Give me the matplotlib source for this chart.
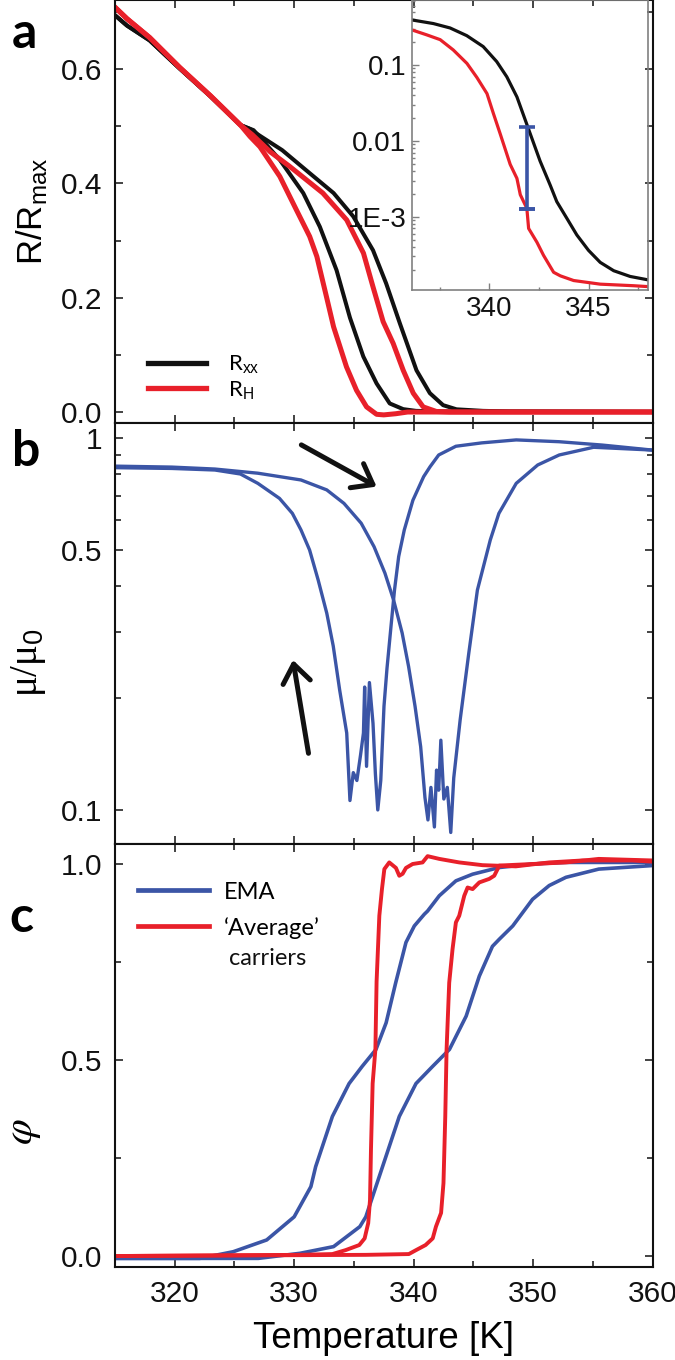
import matplotlib
matplotlib.use('Agg')
import matplotlib.pyplot as plt
from matplotlib.ticker import MultipleLocator, FixedLocator, FixedFormatter, NullFormatter, LogLocator

plt.rcParams['font.family'] = ['Liberation Sans', 'DejaVu Sans']
plt.rcParams['mathtext.fontset'] = 'custom'
plt.rcParams['mathtext.rm'] = 'Liberation Sans'
plt.rcParams['mathtext.it'] = 'Liberation Sans:italic'
plt.rcParams['mathtext.bf'] = 'Liberation Sans:bold'

BLACK = '#111111'
RED = '#e8202a'
BLUE = '#3b55a6'

# ---- panel a : R/Rmax (all four branches overlap below ~325.5 K)
T_common = [315.0, 316.0, 317.9, 320.4, 323.0, 325.5]
rxx_common = [0.694, 0.676, 0.650, 0.601, 0.552, 0.502]
rh_common = [0.708, 0.688, 0.655, 0.603, 0.553, 0.502]

rxx_cool_T = [326.6, 328.8, 330.76, 332.15, 333.55, 334.67, 335.79, 336.9, 338.0, 339.13, 340.2, 342.0, 360.0]
rxx_cool = [0.493, 0.441, 0.383, 0.324, 0.248, 0.165, 0.097, 0.050, 0.015, 0.005, 0.002, 0.001, 0.0]
rxx_heat_T = [326.3, 327.0, 329.0, 331.0, 333.3, 334.95, 336.6, 337.7, 338.85, 340.24, 341.36, 342.47,
              343.59, 345.8, 348.0, 360.0]
rxx_heat = [0.495, 0.485, 0.458, 0.423, 0.383, 0.342, 0.283, 0.225, 0.155, 0.073, 0.033, 0.012,
            0.0047, 0.002, 0.001, 0.0005]

rh_cool_T = [326.3, 327.13, 328.8, 330.2, 331.3, 331.9, 332.15, 332.7, 333.3, 334.38, 335.22, 336.06,
             336.9, 337.5, 338.5, 339.5, 360.0]
rh_cool = [0.482, 0.464, 0.412, 0.353, 0.307, 0.272, 0.250, 0.202, 0.149, 0.079, 0.038, 0.009,
           -0.004, -0.005, -0.003, 0.0, 0.0]
rh_heat_T = [326.5, 328.0, 329.6, 332.4, 334.4, 335.8, 336.6, 337.45, 338.29, 339.13, 339.97, 340.8,
             341.9, 343.0, 360.0]
rh_heat = [0.485, 0.455, 0.430, 0.383, 0.336, 0.278, 0.219, 0.158, 0.120, 0.073, 0.033, 0.009,
           0.001, 0.0, 0.0]

# inset (log scale, heating branches)
ins_T_rxx = [336.17, 337.18, 338.02, 338.86, 339.69, 340.37, 340.88, 341.39, 341.89, 342.56, 343.07,
             343.40, 343.91, 344.41, 345.0, 345.59, 346.27, 347.10, 347.94]
ins_rxx = [0.39, 0.352, 0.308, 0.244, 0.175, 0.111, 0.0699, 0.038, 0.0165, 0.0054, 0.0026,
           0.00158, 9.5e-4, 5.75e-4, 3.6e-4, 2.5e-4, 1.94e-4, 1.63e-4, 1.48e-4]
ins_T_rh = [336.17, 336.84, 337.52, 338.18, 338.87, 339.37, 339.88, 340.21, 340.55, 341.05, 341.39,
            341.56, 341.89, 341.98, 342.40, 342.73, 343.24, 343.58, 344.25, 345.59, 347.27, 347.94]
ins_rh = [0.286, 0.25, 0.216, 0.158, 0.105, 0.0686, 0.042, 0.0227, 0.0123, 0.0049, 0.0032,
          0.00195, 0.00129, 7e-4, 4.6e-4, 3.1e-4, 1.85e-4, 1.66e-4, 1.44e-4, 1.29e-4, 1.23e-4, 1.2e-4]
bar_T = 341.89
bar_lo, bar_hi = 0.00127, 0.0154

# ---- panel b : mobility
mu_a_T = [315, 319.76, 323.36, 325.5, 326.96, 328.77, 329.85, 330.57, 331.29, 332.01, 332.73, 333.27,
          333.81, 334.4, 334.67, 334.95, 335.25, 335.55, 335.8, 335.9, 336.06, 336.3, 336.6, 336.8,
          337.0, 337.25, 337.52, 337.77, 338.1, 338.4, 338.75, 339.22, 339.94, 340.84, 341.38, 342.1,
          343.54, 345.7, 348.59, 352.19, 355.79, 359.94]
mu_a = [0.832, 0.828, 0.82, 0.80, 0.755, 0.688, 0.627, 0.566, 0.50, 0.415, 0.338, 0.276,
        0.210, 0.161, 0.106, 0.126, 0.12, 0.14, 0.161, 0.214, 0.131, 0.22, 0.171, 0.125,
        0.10, 0.12, 0.19, 0.24, 0.31, 0.39, 0.48, 0.566, 0.68, 0.787, 0.837, 0.90,
        0.95, 0.97, 0.988, 0.977, 0.957, 0.928]
mu_b_T = [315, 319.76, 323.36, 326.96, 330.57, 332.73, 334.17, 335.61, 336.69, 337.6, 338.32, 339.04,
          339.58, 340.12, 340.59, 340.95, 341.2, 341.45, 341.74, 341.92, 342.1, 342.28, 342.53, 342.82,
          343.11, 343.36, 343.9, 344.62, 345.34, 346.42, 347.14, 348.59, 350.39, 352.19, 355.07, 359.94]
mu_b = [0.84, 0.835, 0.825, 0.804, 0.771, 0.725, 0.667, 0.590, 0.51, 0.433, 0.367, 0.299,
        0.243, 0.19, 0.148, 0.108, 0.094, 0.115, 0.09, 0.128, 0.113, 0.154, 0.107, 0.115,
        0.087, 0.122, 0.175, 0.264, 0.39, 0.532, 0.627, 0.755, 0.846, 0.90, 0.944, 0.928]

# ---- panel c : metallic fraction
ema_cool_T = [315, 322.1, 324.9, 327.7, 330.0, 331.4, 331.8, 333.2, 334.6, 335.7, 336.85, 337.7, 338.5,
              339.36, 340.06, 340.9, 341.17, 342.15, 343.54, 344.94, 347.17, 349.96, 352.75, 360.0]
ema_cool = [-0.006, -0.006, 0.011, 0.041, 0.10, 0.177, 0.228, 0.356, 0.44, 0.484, 0.527, 0.595, 0.697,
            0.80, 0.842, 0.872, 0.88, 0.919, 0.957, 0.974, 0.991, 1.0, 1.004, 1.004]
ema_heat_T = [315, 327.0, 330.5, 333.3, 335.5, 336.0, 337.4, 338.8, 340.2, 341.6, 343.0, 344.4, 345.5,
              346.6, 347.17, 348.3, 349.96, 351.35, 352.75, 355.5, 360.0]
ema_heat = [-0.006, -0.006, 0.007, 0.024, 0.075, 0.10, 0.228, 0.356, 0.44, 0.484, 0.527, 0.612, 0.714,
            0.79, 0.808, 0.842, 0.91, 0.945, 0.966, 0.987, 0.996]
avg_cool_T = [315, 330.4, 333.2, 334.3, 335.45, 335.9, 336.2, 336.35, 336.43, 336.57, 336.8, 336.9,
              337.13, 337.35, 337.55, 337.96, 338.52, 338.8, 339.08, 339.36, 339.92, 340.75, 341.17,
              342.15, 343.82, 345.77, 348.56, 351.35, 354.14, 358.3, 360.0]
avg_cool = [0.0, 0.003, 0.005, 0.015, 0.028, 0.045, 0.084, 0.143, 0.271, 0.44, 0.527, 0.70,
            0.868, 0.936, 0.987, 1.004, 0.99, 0.97, 0.975, 0.99, 1.0, 1.004, 1.02,
            1.013, 1.004, 0.997, 0.994, 1.004, 1.009, 1.009, 1.006]
avg_heat_T = [315, 336.0, 339.6, 340.2, 341.0, 341.6, 341.87, 342.3, 342.5, 342.65, 342.76, 342.98,
              343.26, 343.54, 343.82, 344.24, 344.52, 344.94, 345.5, 346.33, 346.75, 347.03, 347.17,
              349.96, 352.75, 355.5, 360.0]
avg_heat = [0.0, 0.003, 0.005, 0.015, 0.028, 0.045, 0.075, 0.11, 0.186, 0.356, 0.527, 0.697,
            0.783, 0.851, 0.868, 0.919, 0.94, 0.936, 0.953, 0.962, 0.97, 0.987, 0.996,
            1.0, 1.004, 1.013, 1.009]

# arrows in panel b : (tail T, tail mu, head T, head mu)
arrow_down = (330.6, 0.958, 336.9, 0.740)
arrow_up = (331.2, 0.142, 329.9, 0.253)


def style(ax):
    ax.tick_params(which='both', direction='in', top=True, right=True, width=1.1,
                   labelsize=21.5, pad=9, colors=BLACK)
    ax.tick_params(which='major', length=5.5)
    ax.tick_params(which='minor', length=4)
    for s in ax.spines.values():
        s.set_linewidth(1.5)
        s.set_color(BLACK)


fig = plt.figure(figsize=(6.75, 13.6), dpi=100)
L, W = 0.17037, 0.7963
axa = fig.add_axes([L, 0.68897, W, 0.31103])
axb = fig.add_axes([L, 0.37941, W, 0.30956], sharex=axa)
axc = fig.add_axes([L, 0.06838, W, 0.31103], sharex=axa)

# panel a
h_xx = axa.plot(T_common + rxx_cool_T, rxx_common + rxx_cool, color=BLACK, lw=2.9)[0]
axa.plot(T_common + rxx_heat_T, rxx_common + rxx_heat, color=BLACK, lw=2.9)
h_h = axa.plot(T_common + rh_cool_T, rh_common + rh_cool, color=RED, lw=3.6)[0]
axa.plot(T_common + rh_heat_T, rh_common + rh_heat, color=RED, lw=3.6)
axa.set_ylim(-0.0192, 0.7207)
axa.yaxis.set_major_locator(FixedLocator([0.0, 0.2, 0.4, 0.6]))
axa.yaxis.set_major_formatter(FixedFormatter(['0.0', '0.2', '0.4', '0.6']))
axa.yaxis.set_minor_locator(FixedLocator([0.1, 0.3, 0.5, 0.7]))
axa.set_ylabel(r'R/R$_{\rm max}$', fontsize=25)
axa.yaxis.set_label_coords(-0.12, 0.5)
leg = axa.legend([h_xx, h_h], [r'R$_{\rm xx}$', r'R$_{\rm H}$'], loc='lower left',
                 bbox_to_anchor=(0.061, 0.05), frameon=False, borderpad=0, borderaxespad=0,
                 handlelength=2.64, handletextpad=0.96, labelspacing=0.15,
                 prop={'family': 'Lato', 'size': 16})
for ln in leg.get_lines():
    ln.set_linewidth(3.8)

# panel b
axb.plot(mu_a_T, mu_a, color=BLUE, lw=2.4)
axb.plot(mu_b_T, mu_b, color=BLUE, lw=2.4)
axb.set_yscale('log')
axb.set_ylim(0.0810, 1.097)
axb.yaxis.set_major_locator(FixedLocator([0.1, 0.5, 1.0]))
axb.yaxis.set_major_formatter(FixedFormatter(['0.1', '0.5', '1']))
axb.yaxis.set_minor_locator(FixedLocator([0.2, 0.3, 0.4, 0.6, 0.7, 0.8, 0.9]))
axb.yaxis.set_minor_formatter(NullFormatter())
axb.set_ylabel('μ/μ$_0$', fontsize=28, family='Liberation Serif')
axb.yaxis.set_label_coords(-0.125, 0.43)
for tail_T, tail_mu, head_T, head_mu in [arrow_down, arrow_up]:
    axb.annotate('', xy=(head_T, head_mu), xytext=(tail_T, tail_mu),
                 arrowprops=dict(arrowstyle='->,head_length=0.6,head_width=0.45', lw=3.6,
                                 color=BLACK, shrinkA=0, shrinkB=0, mutation_scale=22))

# panel c
h_ema = axc.plot(ema_cool_T, ema_cool, color=BLUE, lw=2.6)[0]
axc.plot(ema_heat_T, ema_heat, color=BLUE, lw=2.6)
h_avg = axc.plot(avg_cool_T, avg_cool, color=RED, lw=2.8)[0]
axc.plot(avg_heat_T, avg_heat, color=RED, lw=2.8)
axc.set_ylim(-0.028, 1.051)
axc.yaxis.set_major_locator(FixedLocator([0.0, 0.5, 1.0]))
axc.yaxis.set_major_formatter(FixedFormatter(['0.0', '0.5', '1.0']))
axc.yaxis.set_minor_locator(FixedLocator([0.25, 0.75]))
axc.set_ylabel(r'$\varphi$', fontsize=30, math_fontfamily='stix')
axc.yaxis.set_label_coords(-0.134, 0.32)
axc.set_xlabel('Temperature [K]', fontsize=26.5, labelpad=10)
leg2 = axc.legend([h_ema, h_avg], ['EMA', '\u2018Average\u2019'], loc='upper left',
                  bbox_to_anchor=(0.043, 0.911), frameon=False, borderpad=0, borderaxespad=0,
                  handlelength=3.0, handletextpad=0.64, labelspacing=0.6,
                  prop={'family': 'Lato', 'size': 17})
for ln in leg2.get_lines():
    ln.set_linewidth(3.4)
axc.text(0.212, 0.73, 'carriers', transform=axc.transAxes, family='Lato', fontsize=17,
         ha='left', va='center', color=BLACK)

axa.set_xlim(315, 360)
axa.xaxis.set_major_locator(MultipleLocator(10))
axa.xaxis.set_minor_locator(MultipleLocator(5))
for ax in (axa, axb, axc):
    style(ax)
axa.tick_params(labelbottom=False)
axb.tick_params(labelbottom=False)

# inset
ins = fig.add_axes([0.6104, 0.78676, 0.3496, 0.21324])
ins.patch.set_alpha(0)
ins.plot(ins_T_rxx, ins_rxx, color=BLACK, lw=2.3)
ins.plot(ins_T_rh, ins_rh, color=RED, lw=2.3)
ins.errorbar([bar_T], [bar_lo], yerr=[[0], [bar_hi - bar_lo]], color=BLUE, lw=2.6,
             capsize=6, capthick=2.6)
ins.plot([bar_T], [bar_lo], color=BLUE, marker='_', ms=12, mew=2.6)
ins.set_yscale('log')
ins.set_xlim(336.1, 348.0)
ins.set_ylim(1.08e-4, 0.72)
ins.xaxis.set_major_locator(FixedLocator([340, 345]))
ins.xaxis.set_minor_locator(FixedLocator([337.5, 342.5, 347.5]))
ins.yaxis.set_major_locator(FixedLocator([1e-3, 1e-2, 1e-1]))
ins.yaxis.set_major_formatter(FixedFormatter(['1E-3', '0.01', '0.1']))
ins.yaxis.set_minor_locator(LogLocator(base=10, subs=range(2, 10)))
ins.yaxis.set_minor_formatter(NullFormatter())
ins.tick_params(which='both', direction='in', color='#808080', labelcolor=BLACK,
                labelsize=20, pad=4, width=1.0)
ins.tick_params(which='major', length=5)
ins.tick_params(which='minor', length=2.5)
for s in ins.spines.values():
    s.set_color('#808080')
    s.set_linewidth(1.2)

# panel letters
for letter, px, py in [('a', 24, 34), ('b', 26, 452), ('c', 21, 918)]:
    fig.text(px / 675, 1 - py / 1360, letter, fontsize=36, fontweight='bold', family='Lato',
             ha='center', va='center')

fig.savefig('out.png', dpi=100)
